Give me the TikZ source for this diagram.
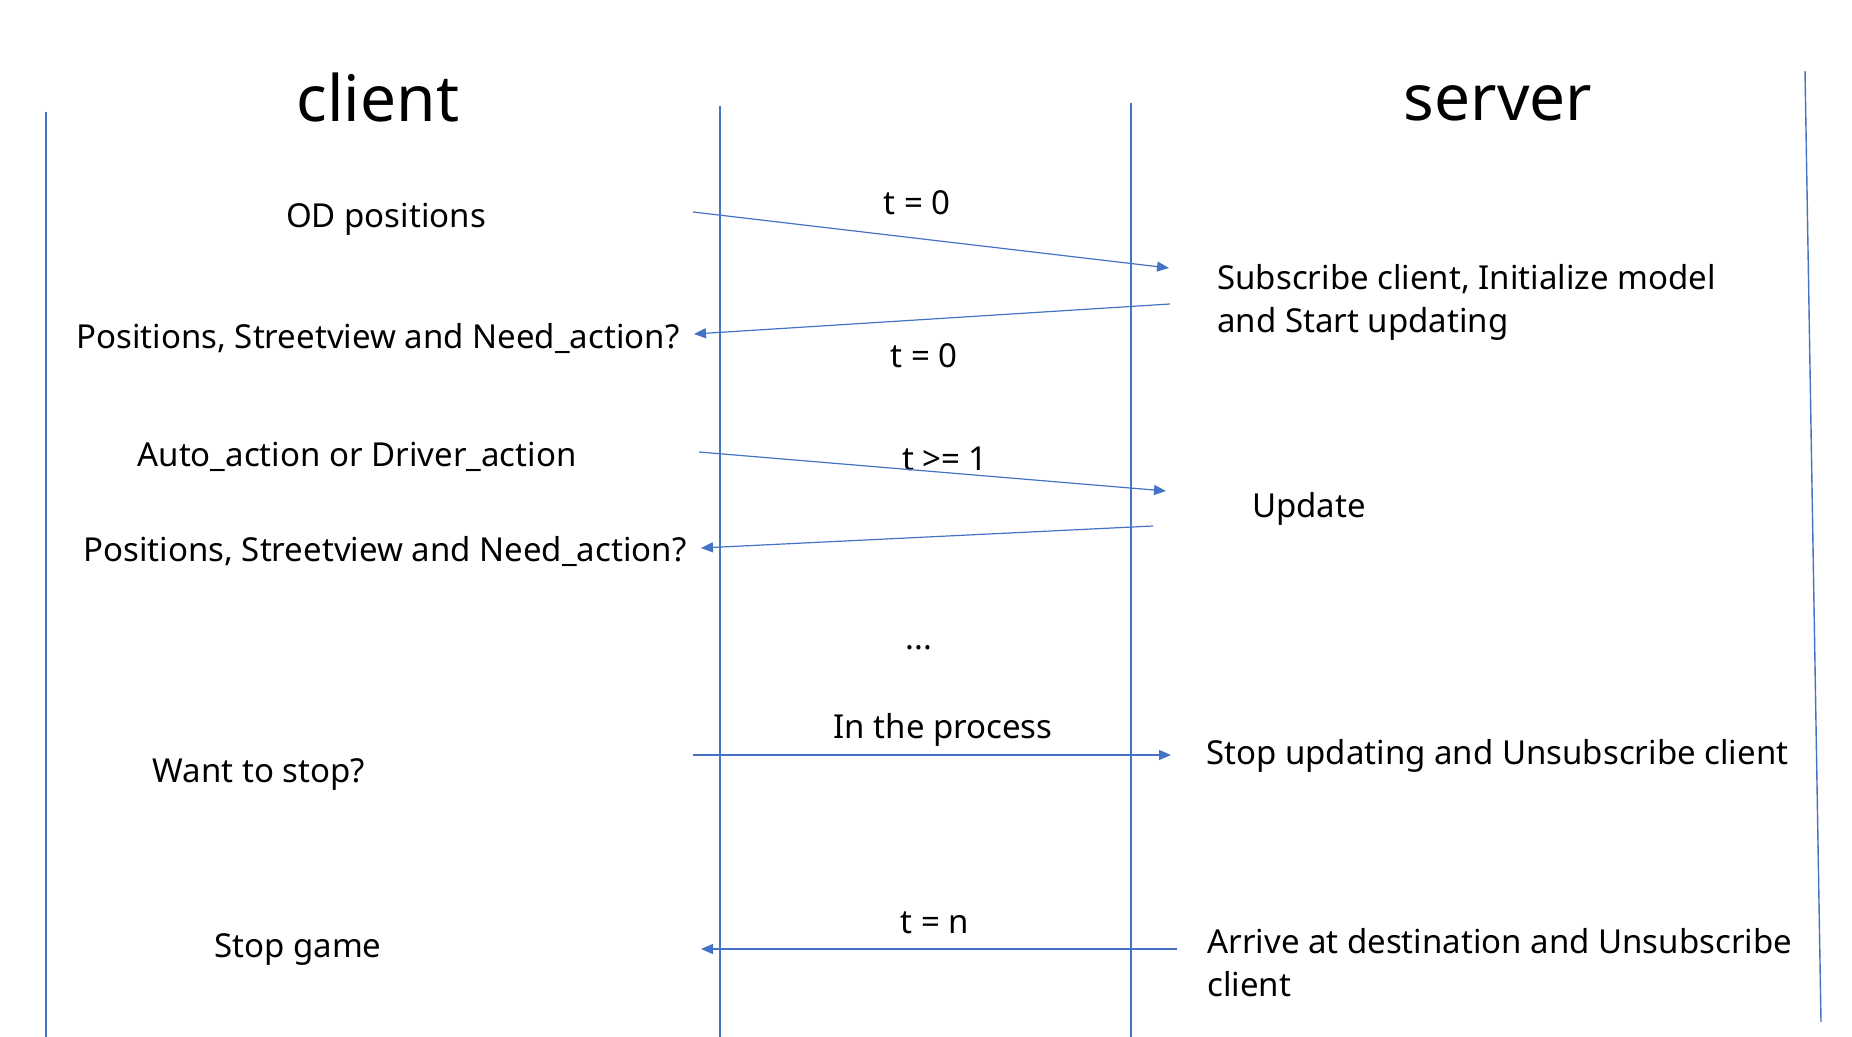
\documentclass[tikz,border=0pt]{standalone}
\usepackage{fontspec}
\setmainfont{Noto Sans}
\usetikzlibrary{arrows.meta}
\definecolor{lineblue}{HTML}{4472C4}
\tikzset{
  lifeline/.style={draw=lineblue, line width=0.7pt},
  msg/.style={draw=lineblue, line width=0.6pt, -{Triangle[length=6pt,width=5pt]}},
  title/.style={font=\fontsize{32}{38}\selectfont, inner sep=0pt},
  label/.style={font=\fontsize{16.5}{21.5}\selectfont, inner sep=0pt},
  leftlabel/.style={label, anchor=west, align=left}
}
\begin{document}
\begin{tikzpicture}[x=0.5pt,y=-0.5pt]
\useasboundingbox (0,0) rectangle (1852,1037);
% lifelines
\coordinate (l1t) at (46,112);   \coordinate (l1b) at (46,1037);
\coordinate (l2t) at (720,106);  \coordinate (l2b) at (720,1037);
\coordinate (l3t) at (1131,103); \coordinate (l3b) at (1131,1037);
\coordinate (l4t) at (1805,71);  \coordinate (l4b) at (1821,1022);
\draw[lifeline] (l1t) -- (l1b);
\draw[lifeline] (l2t) -- (l2b);
\draw[lifeline] (l3t) -- (l3b);
\draw[lifeline] (l4t) -- (l4b);
% titles
\node[title] (client) at (378,98) {client};
\node[title] (server) at (1498,103) {server};
% client side labels
\node[label] (od) at (386,219) {OD positions};
\node[label] (pos1) at (378,339) {Positions, Streetview and Need\_action?};
\node[label] (auto) at (357,457) {Auto\_action or Driver\_action};
\node[label] (pos2) at (385,551) {Positions, Streetview and Need\_action?};
\node[label] (want) at (259,775) {Want to stop?};
\node[label] (stopg) at (298,950) {Stop game};
% server side labels
\node[leftlabel] (sub) at (1217,302) {Subscribe client, Initialize model\\and Start updating};
\node[label] (upd) at (1309,509) {Update};
\node[leftlabel] (stopu) at (1206,756) {Stop updating and Unsubscribe client};
\node[leftlabel] (arr) at (1207,963) {Arrive at destination and Unsubscribe\\client};
% message labels
\node[label] (t0a) at (917,203) {t = 0};
\node[label] (t0b) at (924,356) {t = 0};
\node[label] (t1) at (945,459) {t >= 1};
\node[label] (dots) at (919,648) {...};
\node[label] (proc) at (943,730) {In the process};
\node[label] (tn) at (935,923) {t = n};
% messages
\coordinate (m1s) at (693,212);  \coordinate (m1e) at (1169,268);
\coordinate (m2s) at (1170,304); \coordinate (m2e) at (694,334);
\coordinate (m3s) at (699,452);  \coordinate (m3e) at (1166,491);
\coordinate (m4s) at (1153,526); \coordinate (m4e) at (701,548);
\coordinate (m5s) at (693,755);  \coordinate (m5e) at (1171,755);
\coordinate (m6s) at (1177,949); \coordinate (m6e) at (701,949);
\draw[msg] (m1s) -- (m1e);
\draw[msg] (m2s) -- (m2e);
\draw[msg] (m3s) -- (m3e);
\draw[msg] (m4s) -- (m4e);
\draw[msg] (m5s) -- (m5e);
\draw[msg] (m6s) -- (m6e);
\end{tikzpicture}
\end{document}
